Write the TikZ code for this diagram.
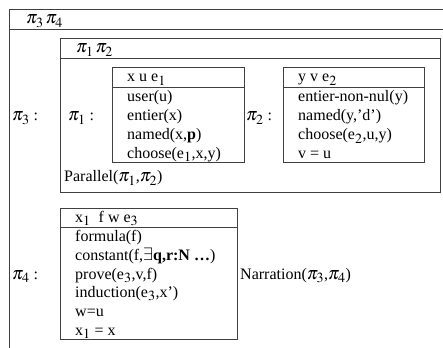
\documentclass[tikz,border=0pt]{standalone}
\usepackage{mathptmx}
\usepackage{fontspec}
\setmainfont{Liberation Serif}
\DeclareMathSizes{16}{18}{14}{11}
\usetikzlibrary{positioning}

\begin{document}
\begin{tikzpicture}[x=1pt,y=-1pt,
		box/.style={draw=black!75,line width=0.8pt},
		txt/.style={anchor=base west,inner sep=0pt,font=\fontsize{16}{18}\selectfont}]
	\useasboundingbox (0,0) rectangle (443,347);

	% outer box pi3 pi4 (cut on the right and at the bottom)
	\draw[box] (443,9) -- (9,9) -- (9,350);
	\draw[box] (9,29) -- (443,29);
	\node[txt] (top) at (26,24) {$\pi_3\,\pi_4$};
	\node[txt] (p3) at (12,121) {$\pi_3$ :};

	% box pi1 pi2
	\draw[box] (60,38) rectangle (440,192);
	\draw[box] (60,58) -- (440,58);
	\node[txt] (mid) at (76,53) {$\pi_1\,\pi_2$};
	\node[txt] (p1) at (68,121) {$\pi_1$ :};
	\node[txt] (par) at (64,182) {Parallel($\pi_1$,$\pi_2$)};

	% box of pi1
	\draw[box] (112,67) rectangle (244,162);
	\draw[box] (112,87) -- (244,87);
	\node[txt] (h1) at (127,82) {x u e$_1$};
	\node[txt] (a1) at (127,102) {user(u)};
	\node[txt] (a2) at (127,121) {entier(x)};
	\node[txt] (a3) at (127,140) {named(x,\textbf{p})};
	\node[txt] (a4) at (127,158) {choose(e$_1$,x,y)};

	% box of pi2
	\node[txt] (p2) at (246,121) {$\pi_2$ :};
	\draw[box] (283,67) rectangle (424,162);
	\draw[box] (283,87) -- (424,87);
	\node[txt] (h2) at (298,82) {y v e$_2$};
	\node[txt] (b1) at (298,102) {entier-non-nul(y)};
	\node[txt] (b2) at (298,121) {named(y,'d')};
	\node[txt] (b3) at (298,140) {choose(e$_2$,u,y)};
	\node[txt] (b4) at (298,158) {v = u};

	% box of pi4
	\node[txt] (p4) at (12,279) {$\pi_4$ :};
	\draw[box] (60,208) rectangle (237,339);
	\draw[box] (60,227) -- (237,227);
	\node[txt] (h3) at (75,222) {x$_1$\ \ f w e$_3$};
	\node[txt] (c1) at (75,241) {formula(f)};
	\node[txt] (c2) at (75,260) {constant(f,$\exists$\textbf{q,r:N \ldots})};
	\node[txt] (c3) at (75,279) {prove(e$_3$,v,f)};
	\node[txt] (c4) at (75,297) {induction(e$_3$,x')};
	\node[txt] (c5) at (75,316) {w=u};
	\node[txt] (c6) at (75,335) {x$_1$ = x};
	\node[txt] (nar) at (240,279) {Narration($\pi_3$,$\pi_4$)};
\end{tikzpicture}
\end{document}
